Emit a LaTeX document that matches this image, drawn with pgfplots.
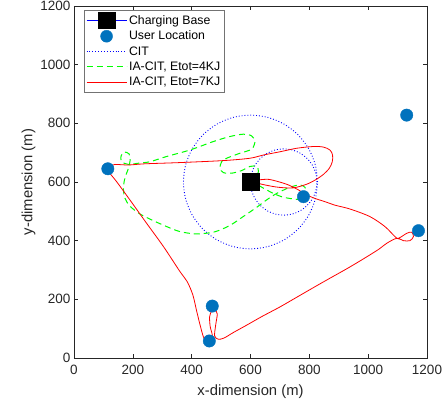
\documentclass[border=0pt]{standalone}
\usepackage{pgfplots}
\pgfplotsset{compat=1.18}
\usepackage{fontspec}
\setmainfont{Liberation Sans}
\usetikzlibrary{calc}
\definecolor{mblue}{rgb}{0,0.447,0.741}
\definecolor{axgray}{rgb}{0.15,0.15,0.15}
\begin{document}
\begin{tikzpicture}
\begin{axis}[
  scale only axis, width=353pt, height=352pt,
  xmin=0, xmax=1200, ymin=0, ymax=1200,
  xtick={0,200,...,1200}, ytick={0,200,...,1200},
  tick align=inside, major tick length=4pt,
  axis line style={axgray, line width=0.6pt},
  every tick/.style={axgray, line width=0.6pt},
  tick label style={font=\fontsize{13.5}{15}\selectfont, text=axgray},
  xticklabel style={yshift=-4pt},
  /pgf/number format/assume math mode=true,
  /pgf/number format/1000 sep={},
  label style={font=\fontsize{14.8}{17}\selectfont, text=axgray},
  xlabel={x-dimension (m)}, ylabel={y-dimension (m)},
  xlabel style={yshift=-3pt}, ylabel style={yshift=-2pt},
  legend style={at={(0.028,0.988)}, anchor=north west, draw=black!55,
    font=\fontsize{12.3}{14}\selectfont, cells={anchor=west}, inner xsep=2pt, inner ysep=3pt,
    row sep=1.2pt},
]
\addplot[blue, line width=0.8pt, mark=square*, mark size=8.5pt, mark options={solid, fill=black, draw=black},
  legend image code/.code={\draw[blue, line width=0.8pt] (0pt,0pt) -- (40pt,0pt); \fill[black, overlay] (11.5pt,-8pt) rectangle (28.5pt,8pt);}] coordinates {(600,600)};
\addlegendentry{Charging Base}
\addplot[only marks, mark=*, mark size=6.2pt, mark options={fill=mblue, draw=mblue},
  legend image code/.code={\fill[mblue, overlay] (20pt,0pt) circle (6pt);}] coordinates {
(115,645) (470,177) (460,58) (780,550) (1131,828) (1171,434)};
\addlegendentry{User Location}
\addplot[blue, dotted, line width=0.9pt, smooth,
  legend image code/.code={\draw[blue, dotted, line width=0.9pt] (0pt,0pt) -- (40pt,0pt);}] coordinates {
(828,600) (820.2,659) (797.4,714) (761.2,761.2) (714,797.4) (659,820.2) (600,828)
(541,820.2) (486,797.4) (438.8,761.2) (402.6,714) (379.8,659) (372,600)
(379.8,541) (402.6,486) (438.8,438.8) (486,402.6) (541,379.8) (600,372)
(659,379.8) (714,402.6) (761.2,438.8) (797.4,486) (820.2,541) (828,600)};
\addlegendentry{CIT}
\addplot[blue, dotted, line width=0.9pt, smooth, forget plot] coordinates {
(826,600) (822.2,629.2) (810.9,656.5) (792.9,679.9) (769.5,697.9) (742.2,709.2) (713,713)
(683.8,709.2) (656.5,697.9) (633.1,679.9) (615.1,656.5) (603.8,629.2) (600,600)
(603.8,570.8) (615.1,543.5) (633.1,520.1) (656.5,502.1) (683.8,490.8) (713,487)
(742.2,490.8) (769.5,502.1) (792.9,520.1) (810.9,543.5) (822.2,570.8) (826,600)};
\addplot[green, dash pattern=on 6pt off 4pt, line width=1pt, smooth, tension=0.5,
  legend image code/.code={\draw[green, dash pattern=on 6pt off 4pt, line width=1pt] (0pt,0pt) -- (40pt,0pt);}] coordinates {
(604,601) (619,616) (627,636) (621,653) (598,653) (570,639) (536,630) (508,632) (496,647)
(502,669) (519,681) (564,698) (604,712) (615,738) (604,757) (576,763) (530,755) (474,738)
(394,709) (315,687) (258,669) (219,664) (185,660) (162,669) (160,689) (171,702) (187,696)
(191,675) (185,647) (173,613) (168,579) (173,545) (190,518) (224,491) (270,468) (315,448)
(360,431) (417,423) (478,430) (530,452) (575,482) (620,513) (655,539) (689,561) (734,582)
(768,590) (785,582) (791,564) (785,544) (757,541) (712,548) (678,561) (644,579) (615,596) (604,601)};
\addlegendentry{IA-CIT, Etot=4KJ}
\addplot[red, line width=0.8pt, smooth, tension=0.5,
  legend image code/.code={\draw[red, line width=0.8pt] (0pt,0pt) -- (40pt,0pt);}] coordinates {
(602,601) (627,607) (661,609) (695,601) (729,590) (763,573) (791,556) (819,544) (853,533)
(887,521) (938,508) (1006,482) (1057,448) (1091,414) (1103,408) (1131,425) (1148,429)
(1154,414) (1142,400) (1120,400) (1097,408) (1063,391) (1035,370) (984,338) (927,304)
(870,272) (814,240) (757,207) (700,174) (638,141) (587,112) (542,87) (510,68) (491,64)
(478,75) (482,115) (487,150) (479,164) (468,161) (461,140) (463,107) (470,78) (464,60)
(452,56) (440,72) (428,115) (417,160) (404,215) (385,260) (360,295) (304,380) (247,459)
(190,539) (145,601) (122,630) (119,643) (128,656) (139,660) (185,658) (241,662) (355,666)
(508,673) (598,681) (644,692) (700,703) (757,715) (814,721) (848,719) (870,709) (879,692)
(878,669) (868,647) (848,626) (822,608) (790,592) (745,580) (695,582) (649,590) (604,601)};
\addlegendentry{IA-CIT, Etot=7KJ}
\end{axis}
\pgfresetboundingbox
\path[use as bounding box] ($(current axis.south west)+(-74pt,-48pt)$) rectangle ($(current axis.north east)+(18pt,6pt)$);
\end{tikzpicture}
\end{document}
